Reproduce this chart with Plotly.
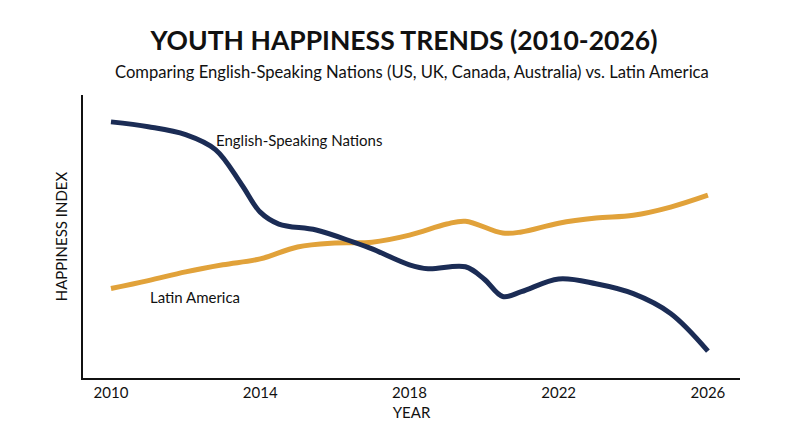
import plotly.graph_objects as go

eng_x = [2010, 2011, 2012, 2012.8, 2013.5, 2014, 2014.5, 2015.5, 2016.5, 2017, 2018, 2018.5, 2019.5, 2020, 2020.5, 2021, 2022, 2023, 2024, 2025, 2026]
eng_y = [90.5, 88.8, 86, 80.7, 68.4, 58.6, 54.4, 52.3, 48, 45.6, 40, 38.6, 39.3, 35, 28.8, 30.5, 35, 33.3, 29.8, 22.8, 9.5]
lat_x = [2010, 2011, 2012, 2013, 2014, 2015, 2016, 2017, 2018, 2019, 2019.5, 2020.5, 2021, 2022, 2023, 2024, 2025, 2026]
lat_y = [31.6, 34.4, 37.5, 40, 42.1, 46.3, 47.7, 48, 50.5, 54.4, 55.4, 51.2, 51.6, 54.7, 56.5, 57.5, 60.4, 64.6]
tick_vals = [2010, 2014, 2018, 2022, 2026]

NAVY = "#1b2c55"
GOLD = "#e1a23a"
W, H = 792, 439
T, B, L, R = 87, 69, 75, 60
PH = H - T - B

fig = go.Figure()
fig.add_trace(go.Scatter(x=lat_x, y=lat_y, mode="lines", line=dict(color=GOLD, width=5, shape="spline", smoothing=1.0), showlegend=False))
fig.add_trace(go.Scatter(x=eng_x, y=eng_y, mode="lines", line=dict(color=NAVY, width=5, shape="spline", smoothing=1.0), showlegend=False))

fig.add_annotation(x=2012.75, y=84, text="English-Speaking Nations", showarrow=False, xanchor="left", font=dict(size=15, color="#111"))
fig.add_annotation(x=2011.0, y=28.5, text="Latin America", showarrow=False, xanchor="left", font=dict(size=15, color="#111"))
fig.add_annotation(x=0.5, xref="paper", y=1 + (T - 64) / PH, yref="paper", yanchor="middle",
                   text="Comparing English-Speaking Nations (US, UK, Canada, Australia) vs. Latin America",
                   showarrow=False, font=dict(size=16.6, color="#111"))

fig.update_layout(
    width=W, height=H,
    paper_bgcolor="white", plot_bgcolor="white",
    margin=dict(l=L, r=R, t=T, b=B),
    font=dict(family="Lato, Open Sans, sans-serif", color="#111"),
    title=dict(text="<b>YOUTH HAPPINESS TRENDS (2010-2026)</b>",
               x=0.5, xanchor="center", y=1 - 33 / H, yanchor="middle", font=dict(size=26.5, color="#111")),
    xaxis=dict(range=[2009.25, 2026.86], tickvals=tick_vals, ticktext=[str(v) for v in tick_vals],
               showgrid=False, zeroline=False, showline=True, linecolor="#111", linewidth=1.5, automargin=False,
               ticks="", tickfont=dict(size=15), title=dict(text="YEAR", font=dict(size=15), standoff=8)),
    yaxis=dict(range=[0, 100], showticklabels=False, showgrid=False, zeroline=False, automargin=False,
               showline=True, linecolor="#111", linewidth=1.5, ticks="",
               title=dict(text="HAPPINESS INDEX", font=dict(size=15), standoff=10)),
)
fig.write_html("out.html")
